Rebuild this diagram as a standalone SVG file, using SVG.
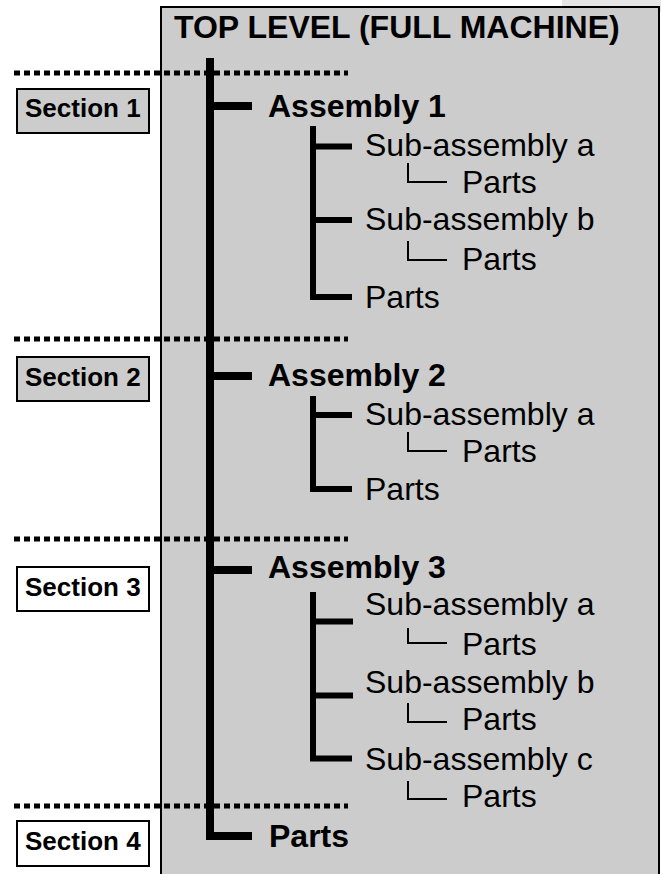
<svg xmlns="http://www.w3.org/2000/svg" width="661" height="874" viewBox="0 0 661 874">
<style>
.t{font-family:"Liberation Sans",Arial,sans-serif;fill:#000}
.b{font-weight:bold;font-size:32px}
.r{font-size:32px}
.sec{font-weight:bold;font-size:26px}
.main{stroke:#000;stroke-width:8;fill:none;stroke-linecap:butt}
.sub{stroke:#000;stroke-width:6;fill:none}
.thin{stroke:#000;stroke-width:2;fill:none}
.dot{stroke:#000;stroke-width:5;stroke-dasharray:6 4;fill:none}
.sbox{stroke:#000;stroke-width:2}
</style>
<rect x="562" y="0" width="99" height="12" fill="#e6e6e6"/>
<rect id="frame" x="161" y="7" width="498" height="880" fill="#cccccc" stroke="#000" stroke-width="2"/>
<g id="title"><text class="t b" x="174" y="38">TOP LEVEL (FULL MACHINE)</text></g>
<g id="dividers">
<line class="dot" x1="14" y1="73" x2="348" y2="73"/>
<line class="dot" x1="14" y1="339" x2="348" y2="339"/>
<line class="dot" x1="14" y1="539" x2="348" y2="539"/>
<line class="dot" x1="14" y1="806" x2="348" y2="806"/>
</g>
<g id="connectors">
<path class="main" d="M210 58 V840 M210 106 H252 M210 376 H252 M210 570 H252 M206 836 H252"/>
<path class="sub" d="M313 126 V300 M313 146.5 H352 M313 220 H352 M310 297 H352"/>
<path class="thin" d="M408 163 V182 H447 M408 241 V260 H447"/>
<path class="sub" d="M313 396 V492 M313 415 H352 M310 489 H352"/>
<path class="thin" d="M408 432 V451 H447"/>
<path class="sub" d="M313 592 V761 M313 621.5 H353 M313 695.5 H353 M310 758.5 H352"/>
<path class="thin" d="M408 628 V643 H447 M408 703 V722 H447 M408 781 V799 H447"/>
</g>
<g id="section1"><rect class="sbox" x="17" y="89" width="132" height="44" fill="#cccccc"/><text class="t sec" x="25" y="117">Section 1</text></g>
<g id="section2"><rect class="sbox" x="17" y="357" width="132" height="44" fill="#cccccc"/><text class="t sec" x="25" y="386">Section 2</text></g>
<g id="section3"><rect class="sbox" x="17" y="567" width="132" height="44" fill="#ffffff"/><text class="t sec" x="25" y="596">Section 3</text></g>
<g id="section4"><rect class="sbox" x="17" y="821" width="132" height="45" fill="#ffffff"/><text class="t sec" x="25" y="850">Section 4</text></g>
<g id="assembly1"><text class="t b" x="268" y="117">Assembly 1</text></g>
<g id="a1-sub-a"><text class="t r" x="365" y="156">Sub-assembly a</text></g>
<g id="a1-sub-a-parts"><text class="t r" x="462" y="193">Parts</text></g>
<g id="a1-sub-b"><text class="t r" x="365" y="230">Sub-assembly b</text></g>
<g id="a1-sub-b-parts"><text class="t r" x="462" y="270">Parts</text></g>
<g id="a1-parts"><text class="t r" x="365" y="308">Parts</text></g>
<g id="assembly2"><text class="t b" x="268" y="386">Assembly 2</text></g>
<g id="a2-sub-a"><text class="t r" x="365" y="425">Sub-assembly a</text></g>
<g id="a2-sub-a-parts"><text class="t r" x="462" y="462">Parts</text></g>
<g id="a2-parts"><text class="t r" x="365" y="500">Parts</text></g>
<g id="assembly3"><text class="t b" x="268" y="578">Assembly 3</text></g>
<g id="a3-sub-a"><text class="t r" x="365" y="615">Sub-assembly a</text></g>
<g id="a3-sub-a-parts"><text class="t r" x="462" y="655">Parts</text></g>
<g id="a3-sub-b"><text class="t r" x="365" y="693">Sub-assembly b</text></g>
<g id="a3-sub-b-parts"><text class="t r" x="462" y="730">Parts</text></g>
<g id="a3-sub-c"><text class="t r" x="365" y="770">Sub-assembly c</text></g>
<g id="a3-sub-c-parts"><text class="t r" x="462" y="807">Parts</text></g>
<g id="top-parts"><text class="t b" x="269" y="847">Parts</text></g>
</svg>
